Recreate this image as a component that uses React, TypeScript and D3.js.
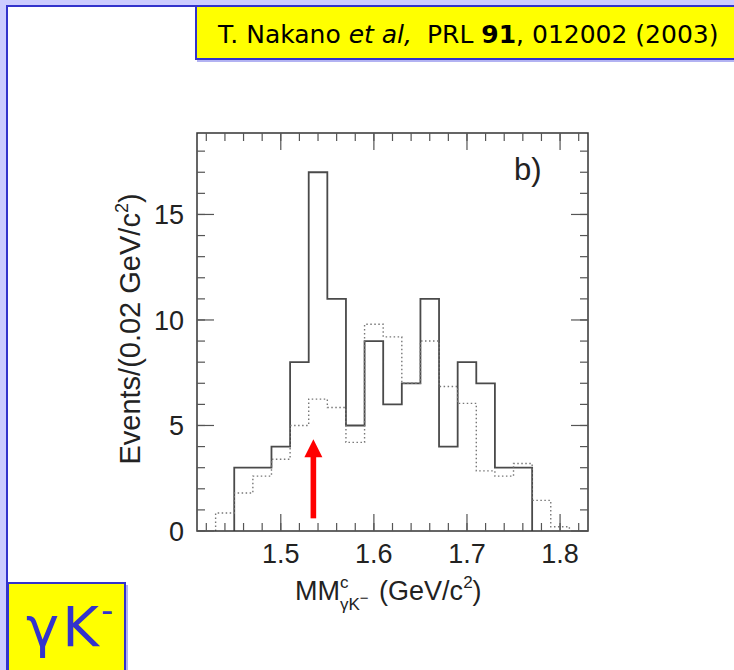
import * as d3 from "d3";

// bin lower edges (GeV/c^2), bin width 0.02
const solidBins = [1.45, 1.47, 1.49, 1.51, 1.53, 1.55, 1.57, 1.59, 1.61, 1.63, 1.65, 1.67, 1.69, 1.71, 1.73, 1.75];
const solidCounts = [3, 3, 4, 8, 17, 11, 5, 9, 6, 7, 11, 4, 8, 7, 3, 3];

const dottedBins = [1.43, 1.45, 1.47, 1.49, 1.51, 1.53, 1.55, 1.57, 1.59, 1.61, 1.63, 1.65, 1.67, 1.69, 1.71, 1.73, 1.75, 1.77, 1.79];
const dottedCounts = [0.85, 1.8, 2.6, 3.4, 5.0, 6.25, 5.85, 4.2, 9.8, 9.2, 7.0, 9.0, 6.85, 6.05, 2.85, 2.6, 3.2, 1.45, 0.2];

const binWidth = 0.02;
const xMajor = [1.5, 1.6, 1.7, 1.8];
const yMajor = [0, 5, 10, 15];

// red arrow marking the peak
const arrowAt = 1.535;
const arrowFrom = 0.6;
const arrowHead = 3.5;
const arrowTip = 4.35;

const W = 734;
const H = 670;
const plot = { left: 197, right: 588, top: 133, bottom: 531 };

const x = d3.scaleLinear().domain([1.41, 1.83]).range([plot.left, plot.right]);
const y = d3.scaleLinear().domain([0, 18.86]).range([plot.bottom, plot.top]);

const line = d3.line<[number, number]>()
  .curve(d3.curveStepAfter)
  .x(d => x(d[0]))
  .y(d => y(d[1]));

function stepPath(bins: number[], counts: number[]) {
  const pts: [number, number][] = [[bins[0], 0]];
  bins.forEach((b, i) => pts.push([b, counts[i]]));
  pts.push([bins[bins.length - 1] + binWidth, 0]);
  return line(pts) || "";
}

const blue = "#3333cc";
const font = "'Liberation Sans', Arial, Helvetica, sans-serif";

export default function App() {
  const xMinor = d3.range(71, 92).map(i => i * 0.02);
  const yMinor = d3.range(0, 19);
  const ax = x(arrowAt);

  return (
    <svg width={W} height={H} style={{ position: "absolute", left: 0, top: 0, display: "block" }}>
      <rect x={0} y={0} width={W} height={H} fill="#ccccff" />
      <rect x={7} y={6} width={W + 20} height={H + 20} fill="#fff" stroke={blue} strokeWidth={2} />

      {/* title box */}
      <line x1={197} x2={W} y1={61} y2={61} stroke="#9999ee" strokeWidth={1.5} />
      <rect x={196} y={6} width={W} height={53} fill="#ffff00" stroke={blue} strokeWidth={2} />
      <text x={218} y={43} fontFamily="'DejaVu Sans', sans-serif" fontSize={25} fill="#000">
        T. Nakano <tspan fontStyle="italic">et al,</tspan>
        <tspan dx={7}> PRL </tspan><tspan fontWeight="bold">91</tspan>, 012002 (2003)
      </text>

      {/* histograms */}
      <path d={stepPath(solidBins, solidCounts)} fill="none" stroke="#4a4a4a" strokeWidth={1.8} />
      <path d={stepPath(dottedBins, dottedCounts)} fill="none" stroke="#777" strokeWidth={1.4} strokeDasharray="1.5,2.5" />

      {/* frame and ticks */}
      <rect x={plot.left} y={plot.top} width={plot.right - plot.left} height={plot.bottom - plot.top}
        fill="none" stroke="#333" strokeWidth={1.5} />
      <g stroke="#555" strokeWidth={1.2}>
        {xMinor.map((v, i) => (
          <g key={"xm" + i}>
            <line x1={x(v)} x2={x(v)} y1={plot.bottom} y2={plot.bottom - 8} />
            <line x1={x(v)} x2={x(v)} y1={plot.top} y2={plot.top + 8} />
          </g>
        ))}
        {xMajor.map(v => (
          <g key={"xM" + v}>
            <line x1={x(v)} x2={x(v)} y1={plot.bottom} y2={plot.bottom - 17} />
            <line x1={x(v)} x2={x(v)} y1={plot.top} y2={plot.top + 17} />
          </g>
        ))}
        {yMinor.map(v => (
          <g key={"ym" + v}>
            <line x1={plot.left} x2={plot.left + 8} y1={y(v)} y2={y(v)} />
            <line x1={plot.right} x2={plot.right - 8} y1={y(v)} y2={y(v)} />
          </g>
        ))}
        {yMajor.map(v => (
          <g key={"yM" + v}>
            <line x1={plot.left} x2={plot.left + 17} y1={y(v)} y2={y(v)} />
            <line x1={plot.right} x2={plot.right - 17} y1={y(v)} y2={y(v)} />
          </g>
        ))}
      </g>

      <g fontFamily={font} fontSize={27} fill="#222">
        {xMajor.map(v => (
          <text key={"xl" + v} x={x(v)} y={563} textAnchor="middle">{d3.format(".1f")(v)}</text>
        ))}
        {yMajor.map(v => (
          <text key={"yl" + v} x={184} y={y(v)} dy="0.36em" textAnchor="end">{v}</text>
        ))}
        <text x={295} y={600}>
          MM<tspan dy={-12} fontSize={17}>c</tspan>
          <tspan dx={-8.5} dy={22} fontSize={17}>γK</tspan>
          <tspan dy={-7} fontSize={15}>−</tspan>
          <tspan dx={3} dy={-3}> (GeV/c</tspan>
          <tspan dy={-12} fontSize={17}>2</tspan>
          <tspan dy={12}>)</tspan>
        </text>
        <text transform={`translate(140,${(plot.top + plot.bottom) / 2 - 3}) rotate(-90)`} textAnchor="middle" fontSize={29}>
          Events/(0.02 GeV/c<tspan dy={-12} fontSize={18}>2</tspan><tspan dy={12}>)</tspan>
        </text>
        <text x={514} y={180} fontSize={31}>b)</text>
      </g>

      {/* red arrow */}
      <rect x={ax - 2.8} y={y(arrowHead) - 1} width={5.6} height={y(arrowFrom) - y(arrowHead) + 1} fill="#ff0000" />
      <polygon points={`${ax - 9},${y(arrowHead)} ${ax + 9},${y(arrowHead)} ${ax},${y(arrowTip)}`} fill="#ff0000" />

      {/* particle box */}
      <line x1={127} x2={127} y1={585} y2={H} stroke="#9999ee" strokeWidth={1.5} />
      <rect x={8} y={583} width={117} height={100} fill="#ffff00" stroke={blue} strokeWidth={2} />
      <text x={26} y={646} fontFamily="'DejaVu Sans', sans-serif" fontSize={56} fill={blue}>
        γ<tspan dx={3}>K</tspan><tspan dx={2} dy={-24} fontSize={34}>-</tspan>
      </text>
    </svg>
  );
}
